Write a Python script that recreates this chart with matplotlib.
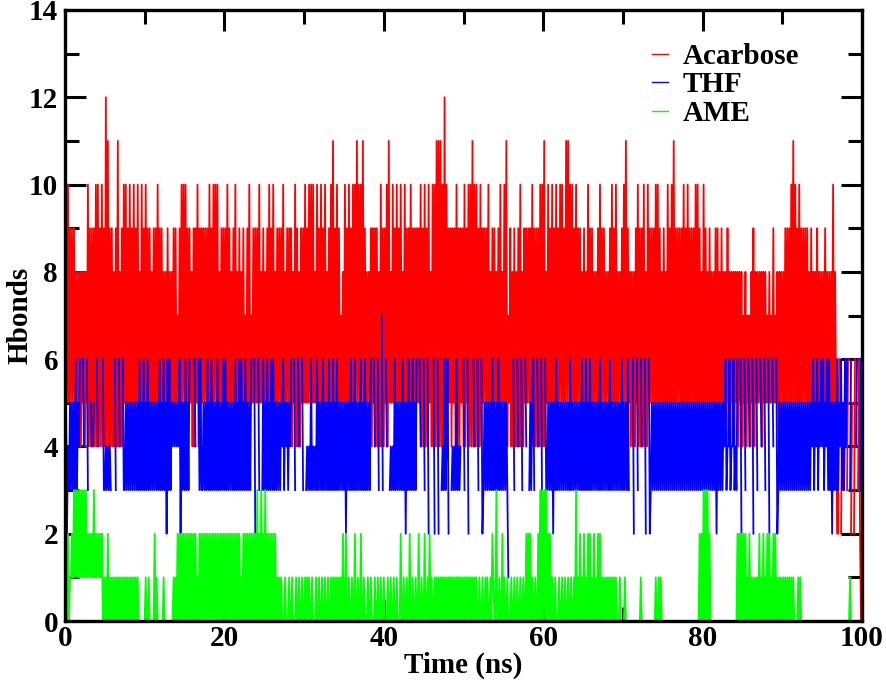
import numpy as np
import matplotlib
matplotlib.use("Agg")
import matplotlib.pyplot as plt
from matplotlib.ticker import MultipleLocator

# Hbond counts, one character per frame (0.125 ns apart).
# a=10, b=11, c=12, '.' = no frame stored
acarbose = (
    "5a5a5959" "59585858" "4858485a" "4949494a" "4a494a49"
    "4c4b4949" "48494b48" "494a5a59" "5a595a59" "5a585a59"
    "5a595958" "59595a59" "59585859" "58585959" "57595a5a"
    "5a595958" "49495a49" "49595959" "5a595a5a" "5a585959"
    "595a5958" "595a5859" "58595759" "5a575959" "595a5859"
    "58595a59" "5a585959" "595a5859" "5959485a" "49484959"
    "5a595a5a" "5a585a59" "5a595a58" "595a5b59" "5a595758"
    "5a595a59" "5a5a5b5a" "5a5b5958" "58594959" "49484a49"
    "495a4b58" "5a595a59" "5a585a59" "595a5959" "49595a49"
    "4a494a58" "4a4a4b4b" "4b4a4c4a" "49594959" "4a494959"
    "4a495a4a" "4b4a4a49" "4a495959" "5a585959" "58595a58"
    "5a4b4759" "48494849" "4a484959" "59594a49" "49494a4a"
    "4b485a59" "5a595a59" "5a5a595b" "5b5a5a59" "5a595958"
    "59585a59" "59585859" "5a595958" "58595a59" "5a585859"
    "5a5b5958" "4848495a" "49494a48" "4a595959" "5a5a5958"
    "59585a59" "5a5b5959" "59595a59" "5a595959" "5a5a5958"
    "5a595859" "58585959" "58595848" "49584858" "48584858"
    "47584757" "48594858" "58584858" "57585759" "57584858"
    "58595959" "5a5b5a59" "5a595959" "59585958" "48594858"
    "58595858" "585a4852" "26.25.36" ".36..25." "26..3620"
)
thf = (
    "45243535" "35363546" "..64..63" "..5445.." "64..6.63"
    "3434343." "..63..64" "..633535" "35353535" "35363536"
    "35363535" "35353536" "35363526" "36354545" "45462535"
    "363536.." "..64..63" "63353536" "35363535" "36353536"
    "36353535" "35363536" "36353635" "3536..62" "..63..36"
    "35363536" "36353535" "35463545" "3546..63" "..64..63"
    "..343436" "34343635" "35363535" "36353635" "36353535"
    "35253536" "35363535" "36353635" "3536..64" "..63..73"
    "..64..34" "34363535" "35363525" "36353635" "36..64.."
    "63..62.." "..62..62" "..343634" "62..3434" "363434.."
    "63..62.." "..64..63" "..623535" "35353635" "35363535"
    "353531.." "..63..64" "..63..64" "..353563" "..64..62"
    "..633535" "35253635" "35353535" "35363535" "35353536"
    "35363536" "35353535" "36353535" "35363535" "35353536"
    "3535363." "..62..63" "..64..62" "..623535" "35353535"
    "35353535" "35353535" "35353535" "35353535" "35353535"
    "35353535" "35353525" "35353546" "34463446" "3436..62"
    "..63..64" "..62..63" "..64..63" "..62..64" "..623535"
    "35353535" "35353535" "35353535" "35353546" "35463546"
    "46354636" "35253536" "35463536" "46..36.." "..46..36"
)
ame = (
    "01020112" "13131313" "13131312" "12121312" "12121201"
    "01020101" "01010101" "01010101" "01010101" "01000000"
    "01001000" "00201000" "00010000" "00000101" "02020202"
    "02020202" "02020102" "02020202" "02020202" "02020202"
    "02020202" "02020202" "01020202" "02020202" "03020302"
    "03020202" "02020101" "01000100" "01001000" "10010010"
    "01010100" "10001001" "00100100" "10010101" "01010102"
    "00200100" "10020010" "02001000" "10010001" "00100100"
    "10001001" "00100100" "02001001" "00200100" "10020010"
    "02001020" "10010101" "01010101" "01010101" "01010101"
    "01010101" "01010100" "10010010" "10010210" "03001002"
    "01001000" "10010010" "01001002" "02020100" "10020303"
    "03030202" "01001000" "10010010" "01001001" "03010201"
    "02010202" "01020102" "02010101" "01010101" "01000100"
    "00100000" "00000000" "00100000" "00000000" "01001010"
    "00000000" "00000000" "00000000" "00000000" "00000202"
    "03030302" "00000000" "00000000" "00000000" "00020202"
    "02020102" "01010101" "02010201" "02020102" "02010101"
    "01010101" "01010000" "10100000" "00000000" "00000000"
    "00000000" "00000000" "00000000" "00001000" "00000000"
)
labels = ["Acarbose", "THF", "AME"]
colors = ["#ff0000", "#0000ff", "#00ff00"]


def decode(s):
    return np.array([np.nan if c == "." else int(c, 16) for c in s], dtype=float)


plt.rcParams["font.family"] = "Liberation Serif"
plt.rcParams["font.weight"] = "bold"

fig = plt.figure(figsize=(8.86, 6.84), dpi=100)
ax = fig.add_axes([65 / 886, 1 - 621 / 684, 797 / 886, 611 / 684])

for k, s in enumerate([acarbose, thf, ame]):
    y = decode(s)
    t = np.linspace(0, 100, len(y), endpoint=False)
    ax.plot(t, y, color=colors[k], lw=1.3, label=labels[k], zorder=2 + k * 0.1)

ax.set_xlim(0, 100)
ax.set_ylim(0, 14)
ax.xaxis.set_major_locator(MultipleLocator(20))
ax.xaxis.set_minor_locator(MultipleLocator(10))
ax.yaxis.set_major_locator(MultipleLocator(2))
ax.yaxis.set_minor_locator(MultipleLocator(1))
ax.tick_params(which="both", direction="in", top=True, right=True, width=2.2,
               labelsize=21)
ax.tick_params(which="major", length=15)
ax.tick_params(which="minor", length=10)
ax.tick_params(axis="x", pad=3)
ax.tick_params(axis="y", pad=5)
for sp in ax.spines.values():
    sp.set_linewidth(2.4)
    sp.set_zorder(5)

ax.set_xlabel("Time (ns)", fontsize=21, fontweight="bold")
ax.set_ylabel("Hbonds", fontsize=21, fontweight="bold")
ax.xaxis.set_label_coords(0.5, -0.051)
ax.yaxis.set_label_coords(-0.040, 0.5)

leg = ax.legend(loc="upper left", bbox_to_anchor=(652 / 886, 1 - 43 / 684),
                bbox_transform=fig.transFigure, frameon=False, fontsize=21,
                handlelength=0.55, handletextpad=0.5, labelspacing=0.05,
                borderpad=0, borderaxespad=0)
for h in leg.get_lines():
    h.set_linewidth(1.0)

fig.savefig("out.png", dpi=100)
